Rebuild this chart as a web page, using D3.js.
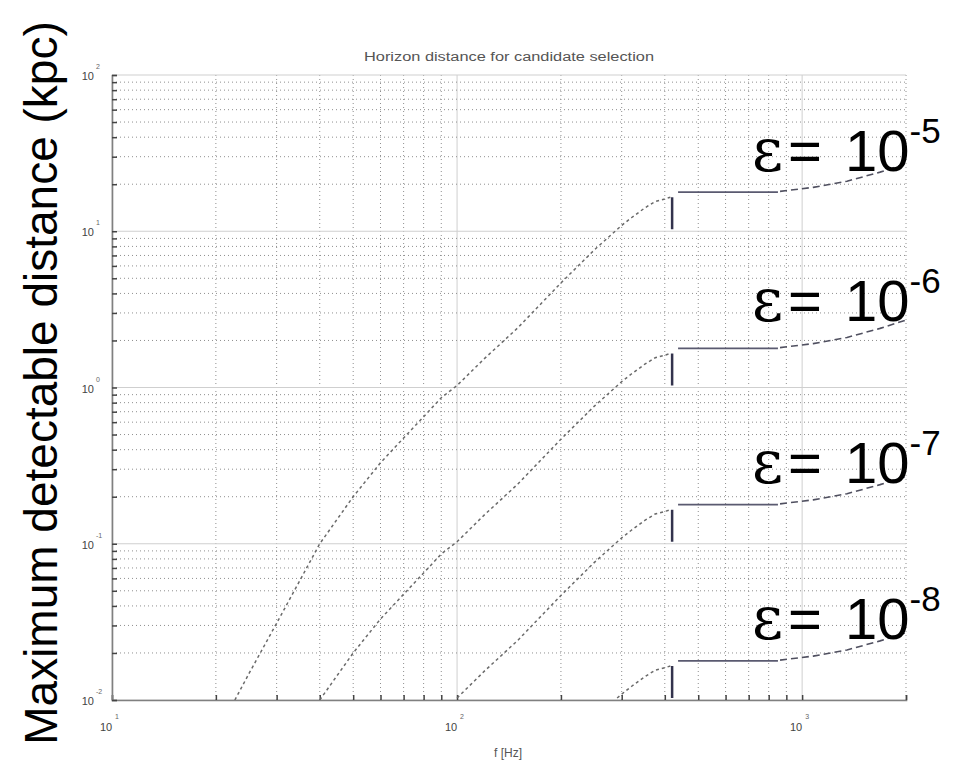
<!DOCTYPE html>
<html>
<head>
<meta charset="utf-8">
<script src="https://cdn.jsdelivr.net/npm/d3@7/dist/d3.min.js"></script>
<style>
  body { margin: 0; background: #fff; }
  svg { display: block; }
</style>
</head>
<body>
<svg id="chart" width="957" height="762"></svg>
<script>
// ---- data ----------------------------------------------------------
const epsExponents = ["-5", "-6", "-7", "-8"];

// rising branch: frequency (Hz) vs. horizon distance (kpc)
const riseFreqE5 = [22.7, 25, 30, 35, 40, 50, 60, 70, 80, 90, 100, 120, 150, 200, 250, 300, 320, 350, 375, 400, 415];
const riseDistE5 = [0.01, 0.0149, 0.031, 0.058, 0.10, 0.20, 0.33, 0.475, 0.65, 0.86, 1.03, 1.53, 2.41, 4.67, 7.6, 10.9, 12.2, 14.1, 15.5, 16.1, 16.5];
const riseFreqE6 = [40, 50, 60, 70, 80, 90, 100, 120, 150, 200, 250, 300, 320, 350, 375, 400, 415];
const riseDistE6 = [0.010, 0.020, 0.033, 0.0475, 0.065, 0.086, 0.103, 0.153, 0.241, 0.467, 0.76, 1.09, 1.22, 1.41, 1.55, 1.61, 1.65];
const riseFreqE7 = [100, 120, 150, 200, 250, 300, 320, 350, 375, 400, 415];
const riseDistE7 = [0.0103, 0.0153, 0.0241, 0.0467, 0.076, 0.109, 0.122, 0.141, 0.155, 0.161, 0.165];
const riseFreqE8 = [291, 300, 320, 350, 375, 400, 415];
const riseDistE8 = [0.0103, 0.0109, 0.0122, 0.0141, 0.0155, 0.0161, 0.0165];

// short vertical marker at the band edge
const markerFreq = 420;
const markerTop = [16.5, 1.65, 0.165, 0.0165];
const markerBottom = [10.3, 1.03, 0.103, 0.0103];

// flat plateau
const flatFreq = [437, 851];
const flatDist = [17.8, 1.78, 0.178, 0.0178];

// high-frequency dashed tail
const tailFreq = [863, 1077, 1349, 1682, 2000];
const tailDistE5 = [18.0, 19.1, 20.9, 23.9, 27.0];
const tailDistE6 = [1.80, 1.91, 2.09, 2.39, 2.70];
const tailDistE7 = [0.180, 0.191, 0.209, 0.239, 0.270];
const tailDistE8 = [0.0180, 0.0191, 0.0209, 0.0239, 0.0270];

// axis ticks
const xMajor = [10, 100, 1000];
const xMajorExp = ["1", "2", "3"];
const yMajor = [100, 10, 1, 0.1, 0.01];
const yMajorExp = ["2", "1", "0", "-1", "-2"];

const titleText = "Horizon distance for candidate selection";
const xTitle = "f [Hz]";
const yTitle = "Maximum detectable distance (kpc)";

// ---- layout --------------------------------------------------------
(function draw() {
  const svg = d3.select("#chart");
  const pLeft = 112, pRight = 906, pTop = 75, pBottom = 700;

  const x = d3.scaleLog().domain([10, 2000]).range([pLeft, pRight]);
  const y = d3.scaleLog().domain([0.01, 100]).range([pBottom, pTop]);

  svg.append("defs").append("clipPath").attr("id", "plotClip")
    .append("rect").attr("x", pLeft).attr("y", pTop)
    .attr("width", pRight - pLeft).attr("height", pBottom - pTop);

  // grid: every decade subdivision
  const xTicksAll = x.ticks();
  const yTicksAll = y.ticks();
  const isMajor = v => Math.abs(Math.log10(v) - Math.round(Math.log10(v))) < 1e-9;

  const grid = svg.append("g");
  grid.selectAll(".vg").data(xTicksAll).join("line")
    .attr("x1", d => x(d)).attr("x2", d => x(d))
    .attr("y1", pTop).attr("y2", pBottom)
    .attr("stroke", d => isMajor(d) ? "#cfcfcf" : "#8f8f8f")
    .attr("stroke-width", 1)
    .attr("stroke-dasharray", d => isMajor(d) ? null : "1,3");
  grid.selectAll(".hg").data(yTicksAll).join("line")
    .attr("x1", pLeft).attr("x2", pRight)
    .attr("y1", d => y(d)).attr("y2", d => y(d))
    .attr("stroke", d => isMajor(d) ? "#cfcfcf" : "#8f8f8f")
    .attr("stroke-width", 1)
    .attr("stroke-dasharray", d => isMajor(d) ? null : "1,3");

  // axes (left and bottom only), ticks pointing inward
  const xAxis = d3.axisBottom(x).tickValues(xTicksAll).tickSize(-5).tickFormat("");
  const yAxis = d3.axisLeft(y).tickValues(yTicksAll).tickSize(-5).tickFormat("");
  const gx = svg.append("g").attr("transform", `translate(0,${pBottom})`).call(xAxis);
  const gy = svg.append("g").attr("transform", `translate(${pLeft},0)`).call(yAxis);
  [gx, gy].forEach(g => {
    g.select(".domain").attr("stroke", "#808080").attr("stroke-width", 1.6);
    g.selectAll(".tick line").attr("stroke", "#444").attr("stroke-width", 1.5);
  });

  // tick labels: 10 with exponent
  const labelFont = "'Liberation Sans', Arial, sans-serif";
  xMajor.forEach((v, i) => {
    svg.append("text").attr("x", x(v) - 6).attr("y", 731)
      .attr("font-family", labelFont).attr("font-size", 11).attr("fill", "#444")
      .attr("text-anchor", "middle").text("10");
    svg.append("text").attr("x", x(v) + 3).attr("y", 719)
      .attr("font-family", labelFont).attr("font-size", 7).attr("fill", "#666")
      .text(xMajorExp[i]);
  });
  yMajor.forEach((v, i) => {
    svg.append("text").attr("x", 94).attr("y", y(v) + 5)
      .attr("font-family", labelFont).attr("font-size", 11).attr("fill", "#444")
      .attr("text-anchor", "end").text("10");
    svg.append("text").attr("x", 96).attr("y", y(v) - 6)
      .attr("font-family", labelFont).attr("font-size", 7).attr("fill", "#666")
      .text(yMajorExp[i]);
  });

  // titles
  svg.append("text").attr("x", (pLeft + pRight) / 2).attr("y", 61)
    .attr("text-anchor", "middle").attr("font-family", labelFont)
    .attr("font-size", 12).attr("fill", "#555")
    .attr("textLength", 290).attr("lengthAdjust", "spacingAndGlyphs")
    .text(titleText);
  svg.append("text").attr("x", 508).attr("y", 757)
    .attr("text-anchor", "middle").attr("font-family", labelFont)
    .attr("font-size", 12).attr("fill", "#555").text(xTitle);
  svg.append("text")
    .attr("transform", "translate(57,383) rotate(-90)")
    .attr("text-anchor", "middle").attr("font-family", labelFont)
    .attr("font-size", 46).attr("fill", "#000").text(yTitle);

  // ---- curves ------------------------------------------------------
  const line = d3.line().x(d => x(d[0])).y(d => y(d[1]));
  const plot = svg.append("g").attr("clip-path", "url(#plotClip)");

  const riseSets = [
    [riseFreqE5, riseDistE5], [riseFreqE6, riseDistE6],
    [riseFreqE7, riseDistE7], [riseFreqE8, riseDistE8]
  ];
  const tailSets = [tailDistE5, tailDistE6, tailDistE7, tailDistE8];

  riseSets.forEach(([fs, ds], i) => {
    plot.append("path").datum(d3.zip(fs, ds)).attr("d", line)
      .attr("fill", "none").attr("stroke", "#6a6a6a").attr("stroke-width", 1.5)
      .attr("stroke-dasharray", "3,3");

    plot.append("line")
      .attr("x1", x(markerFreq)).attr("x2", x(markerFreq))
      .attr("y1", y(markerTop[i])).attr("y2", y(markerBottom[i]))
      .attr("stroke", "#33334d").attr("stroke-width", 2.5);

    plot.append("path").datum(flatFreq.map(f => [f, flatDist[i]])).attr("d", line)
      .attr("fill", "none").attr("stroke", "#5a5a70").attr("stroke-width", 1.6);

    plot.append("path").datum(d3.zip(tailFreq, tailSets[i])).attr("d", line)
      .attr("fill", "none").attr("stroke", "#505060").attr("stroke-width", 1.6)
      .attr("stroke-dasharray", "7,4");
  });

  // ---- ε labels ----------------------------------------------------
  const labelBaselines = [171, 321, 483, 639];
  epsExponents.forEach((e, i) => {
    const t = svg.append("text").attr("x", 752).attr("y", labelBaselines[i])
      .attr("font-family", labelFont).attr("font-size", 58).attr("fill", "#000");
    t.append("tspan").attr("font-family", "'DejaVu Serif', 'Liberation Serif', serif")
      .attr("font-size", 60).text("ε");
    t.append("tspan").attr("dx", 5).text("=");
    t.append("tspan").attr("dx", 7).text(" 10");
    t.append("tspan").attr("font-size", 35).attr("dy", -28).text(e);
  });
})();
</script>
</body>
</html>
